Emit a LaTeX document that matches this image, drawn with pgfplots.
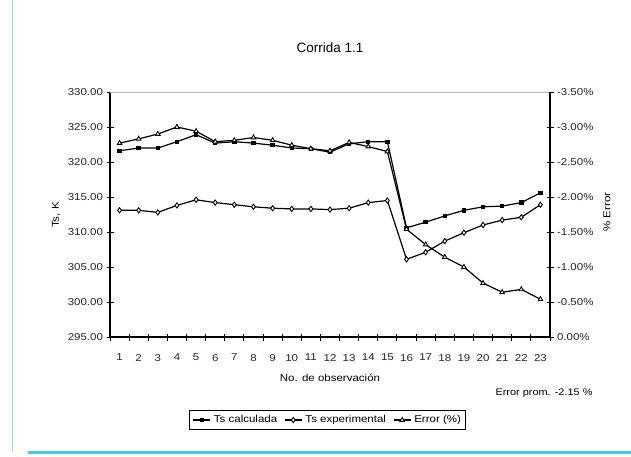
\documentclass[border=0pt]{standalone}
\usepackage{pgfplots}
\usepackage{pgfplotstable}
\pgfplotsset{compat=1.18}
\usepackage{fontspec}
\setmainfont{Liberation Sans}
\newfontfamily\widesans[FakeStretch=1.15]{Liberation Sans}
\definecolor{framecyan}{RGB}{70,200,240}

% Observación, Ts calculada (K), Ts experimental (K), error (%)
\pgfplotstableread{
obs calc  exper err
1   321.6 313.1 -2.77
2   322.0 313.1 -2.83
3   322.0 312.8 -2.90
4   322.9 313.8 -3.00
5   323.9 314.6 -2.94
6   322.7 314.2 -2.79
7   322.9 313.9 -2.81
8   322.7 313.6 -2.85
9   322.4 313.4 -2.81
10  322.0 313.3 -2.74
11  321.9 313.3 -2.69
12  321.4 313.2 -2.66
13  322.6 313.4 -2.78
14  322.9 314.2 -2.72
15  322.9 314.5 -2.65
16  310.6 306.1 -1.54
17  311.4 307.1 -1.32
18  312.3 308.7 -1.14
19  313.1 309.9 -1.00
20  313.6 311.0 -0.77
21  313.7 311.7 -0.64
22  314.2 312.1 -0.68
23  315.6 313.9 -0.54
}\datatable

\pgfplotsset{
  /pgf/number format/assume math mode=true,
  calcstyle/.style={black, line width=1.2pt, mark=square*, mark size=1.6pt, mark options={solid, fill=black}},
  expstyle/.style={black, line width=1.2pt, mark=diamond*, mark size=2.6pt, mark options={solid, fill=white, line width=0.9pt}},
  errstyle/.style={black, line width=1.2pt, mark=triangle*, mark size=2.6pt, mark options={solid, fill=white, line width=0.9pt}},
  chartbase/.style={
    at={(110pt,119pt)}, anchor=south west,
    scale only axis, width=440pt, height=245pt,
    xmin=0.5, xmax=23.5,
    tick align=center,
    ticklabel style={font=\widesans\fontsize{10}{12}\selectfont, black!85},
    clip=false,
  },
}

\begin{document}
\begin{tikzpicture}
\path[use as bounding box] (0pt,0pt) rectangle (631pt,456pt);
% marco de la hoja
\draw[framecyan!60, line width=0.6pt] (12pt,4pt) -- (12pt,456pt);
\draw[framecyan, line width=2.2pt] (28pt,3.5pt) -- (631pt,3.5pt);

% eje izquierdo: temperaturas
\begin{axis}[chartbase,
  ymin=295, ymax=330,
  ytick={295,300,...,330},
  yticklabel={\pgfmathprintnumber[fixed,fixed zerofill,precision=2]{\tick}},
  xtick={1,...,23},
  major x tick style={draw=none},
  minor xtick={0.5,1.5,...,23.5},
  minor tick length=7pt,
  major tick length=7pt,
  axis x line*=bottom, axis y line*=left,
  axis line style={line width=1.2pt, -},
  every tick/.style={black, line width=1pt},
  xticklabel style={yshift=-10pt},
]
\addplot[calcstyle] table[x=obs, y=calc] {\datatable};
\addplot[expstyle] table[x=obs, y=exper] {\datatable};
\end{axis}

% eje derecho: error porcentual
\begin{axis}[chartbase,
  ymin=-3.5, ymax=0, y dir=reverse,
  ytick={-3.5,-3,-2.5,-2,-1.5,-1,-0.5,0},
  yticklabels={-3.50\%,-3.00\%,-2.50\%,-2.00\%,-1.50\%,-1.00\%,-0.50\%,0.00\%},
  xtick=\empty,
  axis x line*=top, axis y line*=right,
  y axis line style={line width=1.2pt, -},
  x axis line style={gray!55, line width=0.7pt, -},
  major tick length=7pt,
  every tick/.style={black, line width=1pt},
  legend style={at={(0.495,-0.339)}, anchor=center, legend columns=3,
    draw=black, line width=1pt, inner xsep=3pt, inner ysep=3.5pt,
    font=\widesans\fontsize{10}{12}\selectfont,
    /tikz/every odd column/.append style={column sep=1pt},
    /tikz/every even column/.append style={column sep=5pt}},
  legend cell align=left,
]
\addlegendimage{calcstyle}
\addlegendentry{Ts calculada}
\addlegendimage{expstyle}
\addlegendentry{Ts experimental}
\addplot[errstyle] table[x=obs, y=err] {\datatable};
\addlegendentry{Error (\%)}
\end{axis}

% títulos y rótulos
\node[font=\fontsize{13.5}{15}\selectfont] at (330pt,408pt) {Corrida 1.1};
\node[font=\widesans\fontsize{10}{12}\selectfont, rotate=90] at (56pt,241pt) {Ts, K};
\node[font=\widesans\fontsize{10}{12}\selectfont, rotate=90] at (607pt,244pt) {\% Error};
\node[font=\widesans\fontsize{10}{12}\selectfont] at (330pt,78pt) {No. de observación};
\node[font=\widesans\fontsize{9.5}{11}\selectfont, anchor=east] at (596pt,63pt) {Error prom. -2.15 \%};
\end{tikzpicture}
\end{document}
